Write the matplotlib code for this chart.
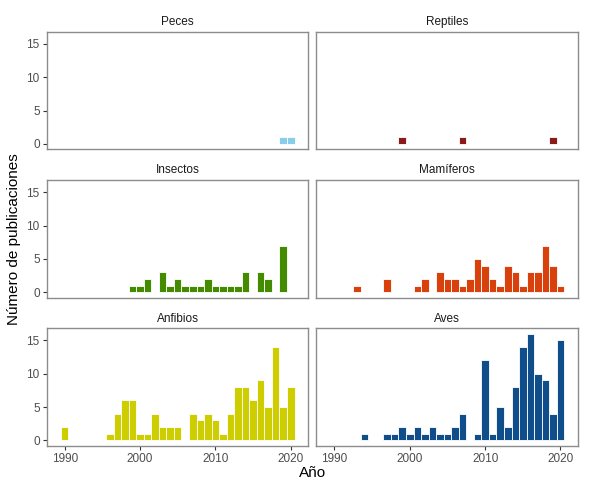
import matplotlib

matplotlib.use("Agg")
import matplotlib.pyplot as plt

plt.rcParams["font.family"] = ["Liberation Sans", "DejaVu Sans"]

# publication counts per year, one pair of lists per group
peces_years = [2019, 2020]
peces_counts = [1, 1]

reptiles_years = [1999, 2007, 2019]
reptiles_counts = [1, 1, 1]

insectos_years = [1999, 2000, 2001, 2003, 2004, 2005, 2006, 2007, 2008, 2009,
                  2010, 2011, 2012, 2013, 2014, 2016, 2017, 2019]
insectos_counts = [1, 1, 2, 3, 1, 2, 1, 1, 1, 2, 1, 1, 1, 1, 3, 3, 2, 7]

mamiferos_years = [1993, 1997, 2001, 2002, 2004, 2005, 2006, 2007, 2008, 2009,
                   2010, 2011, 2012, 2013, 2014, 2015, 2016, 2017, 2018, 2019, 2020]
mamiferos_counts = [1, 2, 1, 2, 3, 2, 2, 1, 2, 5, 4, 2, 1, 4, 3, 1, 3, 3, 7, 4, 1]

anfibios_years = [1990, 1996, 1997, 1998, 1999, 2000, 2001, 2002, 2003, 2004,
                  2005, 2007, 2008, 2009, 2010, 2011, 2012, 2013, 2014, 2015,
                  2016, 2017, 2018, 2019, 2020]
anfibios_counts = [2, 1, 4, 6, 6, 1, 1, 4, 2, 2, 2, 4, 3, 4, 3, 1, 4, 8, 8, 6,
                   9, 5, 14, 5, 8]

aves_years = [1994, 1997, 1998, 1999, 2000, 2001, 2002, 2003, 2004, 2005, 2006,
              2007, 2009, 2010, 2011, 2012, 2013, 2014, 2015, 2016, 2017, 2018,
              2019, 2020]
aves_counts = [1, 1, 1, 2, 1, 2, 1, 2, 1, 1, 2, 4, 1, 12, 1, 5, 2, 8, 14, 16,
               10, 9, 4, 15]

panels = [
    ("Peces", peces_years, peces_counts, "#87CEEB"),
    ("Reptiles", reptiles_years, reptiles_counts, "#8B1A1A"),
    ("Insectos", insectos_years, insectos_counts, "#458B00"),
    ("Mamíferos", mamiferos_years, mamiferos_counts, "#D8400C"),
    ("Anfibios", anfibios_years, anfibios_counts, "#CDCD00"),
    ("Aves", aves_years, aves_counts, "#104E8B"),
]

fig, axes = plt.subplots(3, 2, figsize=(5.9, 4.83), dpi=100, sharex=True, sharey=True)
fig.subplots_adjust(left=0.079, right=0.980, bottom=0.077, top=0.934,
                    wspace=0.03, hspace=0.264)

for i, (ax, (name, years, counts, color)) in enumerate(zip(axes.flat, panels)):
    ax.bar(years, counts, width=1.0, color=color, edgecolor="white", linewidth=0.6)
    ax.set_title(name, fontsize=8.5, color="#1A1A1A", pad=5)
    ax.set_xlim(1987.6, 2022.35)
    ax.set_ylim(-0.8, 16.8)
    ax.set_xticks([1990, 2000, 2010, 2020])
    ax.set_yticks([0, 5, 10, 15])
    for side in ax.spines.values():
        side.set_color("#8C8C8C")
        side.set_linewidth(1.0)
    row, col = divmod(i, 2)
    ax.tick_params(axis="both", labelsize=8.5, labelcolor="#4D4D4D",
                   color="#333333", length=3, width=0.8, pad=2)
    ax.tick_params(axis="x", bottom=(row == 2), labelbottom=(row == 2))
    ax.tick_params(axis="y", left=(col == 0), labelleft=(col == 0))

fig.text(0.529, 0.021, "Año", ha="center", va="center", fontsize=11)
fig.text(0.024, 0.505, "Número de publicaciones", ha="center", va="center",
         rotation=90, fontsize=11)

fig.savefig("out.png", dpi=100)
plt.close(fig)
